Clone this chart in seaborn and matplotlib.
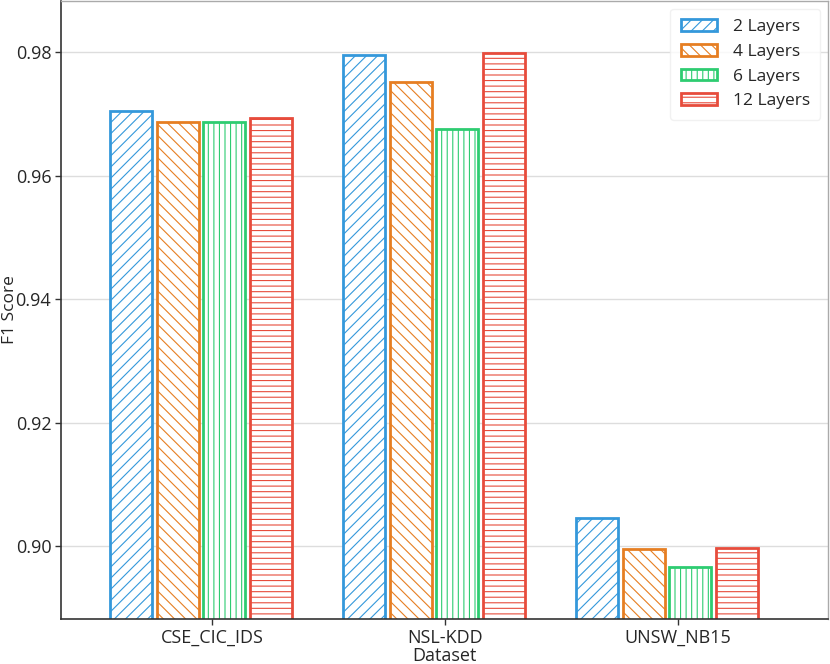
import matplotlib
matplotlib.use("Agg")
import matplotlib.pyplot as plt
import seaborn as sns
import pandas as pd

datasets = ["CSE_CIC_IDS", "NSL-KDD", "UNSW_NB15"]
layers = ["2 Layers", "4 Layers", "6 Layers", "12 Layers"]
f1_2 = [0.9705, 0.9795, 0.9046]
f1_4 = [0.9687, 0.9752, 0.8995]
f1_6 = [0.9687, 0.9676, 0.8966]
f1_12 = [0.9693, 0.9798, 0.8998]

colors = ["#3498db", "#e67e22", "#2ecc71", "#e74c3c"]
hatches = ["///", "\\\\\\", "|||", "---"]

rows = []
for lab, vals in zip(layers, [f1_2, f1_4, f1_6, f1_12]):
    for d, v in zip(datasets, vals):
        rows.append({"Dataset": d, "Layers": lab, "F1 Score": v})
df = pd.DataFrame(rows)

sns.set_theme(style="white")
plt.rcParams["font.family"] = ["Open Sans", "DejaVu Sans"]
plt.rcParams["hatch.linewidth"] = 0.8

fig = plt.figure(figsize=(8.3, 6.64), dpi=100)
ax = fig.add_axes([61 / 830, 1 - 619 / 664, (828 - 61) / 830, 619 / 664 - 0.0015])

sns.barplot(data=df, x="Dataset", y="F1 Score", hue="Layers", hue_order=layers,
            order=datasets, width=0.8, gap=0.1, ax=ax, errorbar=None)

for i, lab in enumerate(layers):
    cont = ax.containers[i]
    for p in cont.patches:
        p.set_facecolor("white")
        p.set_edgecolor(colors[i])
        p.set_linewidth(2.0)
        p.set_hatch(hatches[i])

handles, labels = ax.get_legend_handles_labels()
for i, h in enumerate(handles):
    h.set_facecolor("white")
    h.set_edgecolor(colors[i])
    h.set_linewidth(2.0)
    h.set_hatch(hatches[i])
leg = ax.legend(handles, labels, loc="upper right", fontsize=12.5, frameon=True,
                handlelength=2.1, handleheight=0.65, borderpad=0.6, labelspacing=0.5,
                handletextpad=0.9, borderaxespad=0.45)
leg.get_frame().set_edgecolor("#eeeeee")

ax.set_ylim(0.88825, 0.98824)
ax.set_xlim(-0.60, 2.69)
ax.set_xticks([0.047, 1.047, 2.047])
ax.set_xticklabels(datasets)
ax.set_yticks([0.90, 0.92, 0.94, 0.96, 0.98])
ax.set_yticklabels(["0.90", "0.92", "0.94", "0.96", "0.98"])
ax.tick_params(axis="both", labelsize=13, length=4, width=1, color="#333333",
               bottom=True, left=True, pad=3)
ax.yaxis.grid(True, color="#dddddd", linewidth=1)
ax.xaxis.grid(False)
ax.set_axisbelow(True)
ax.set_xlabel("Dataset", fontsize=13)
ax.set_ylabel("F1 Score", fontsize=12.5)
ax.xaxis.set_label_coords(0.5, -0.045)
ax.yaxis.set_label_coords(-0.0565, 0.5)
for s in ["left", "bottom"]:
    ax.spines[s].set_color("#333333")
    ax.spines[s].set_linewidth(1.2)
for s in ["top", "right"]:
    ax.spines[s].set_color("#aaaaaa")
    ax.spines[s].set_linewidth(1.0)

fig.savefig("out.png", dpi=100)
